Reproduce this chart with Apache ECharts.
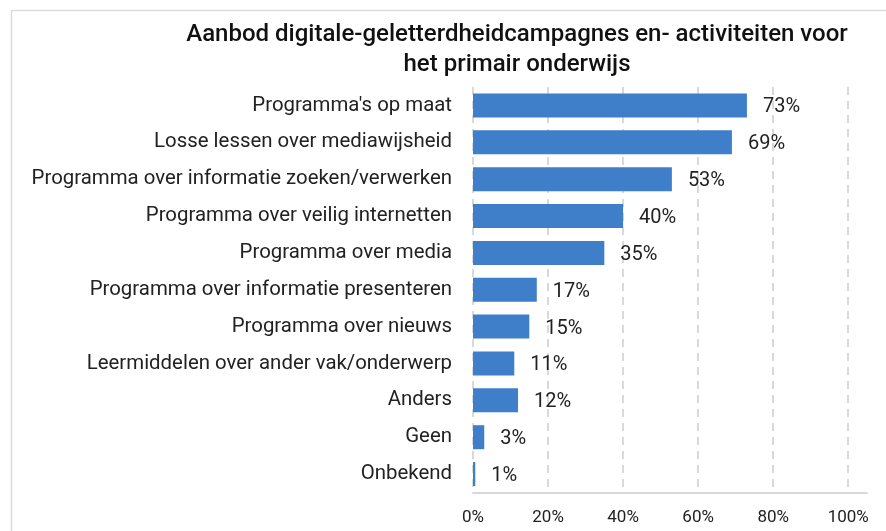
<!DOCTYPE html>
<html lang="nl">
<head>
    <meta charset="UTF-8">
    <title>Aanbod digitale geletterdheid</title>
    <script src="https://cdn.jsdelivr.net/npm/echarts@6/dist/echarts.min.js"></script>
    <style>
        body { margin: 0; background: #fff; }
        #chart { width: 886px; height: 531px; }
    </style>
</head>
<body>
    <div id="chart"></div>
<script>
    // categorieen, van boven naar beneden
    var categories = [
        "Programma's op maat",
        'Losse lessen over mediawijsheid',
        'Programma over informatie zoeken/verwerken',
        'Programma over veilig internetten',
        'Programma over media',
        'Programma over informatie presenteren',
        'Programma over nieuws',
        'Leermiddelen over ander vak/onderwerp',
        'Anders',
        'Geen',
        'Onbekend'
    ];
    var values = [0.73, 0.69, 0.53, 0.40, 0.35, 0.17, 0.15, 0.11, 0.12, 0.03, 0.006];
    var tickValues = [0, 0.2, 0.4, 0.6, 0.8, 1.0];

    var font = 'Roboto';
    var chart = echarts.init(document.getElementById('chart'));

    var option = {
        animation: false,
        backgroundColor: '#fff',
        textStyle: { fontFamily: font },
        graphic: [{
            type: 'rect',
            shape: { x: 11.5, y: 10.5, width: 900, height: 600 },
            style: { fill: 'none', stroke: '#dcdcdc', lineWidth: 1.5 },
            silent: true
        }],
        title: {
            text: 'Aanbod digitale-geletterdheidcampagnes en- activiteiten voor\nhet primair onderwijs',
            left: 512,
            top: 15,
            textAlign: 'center',
            textStyle: {
                fontFamily: font,
                fontSize: 24,
                fontWeight: 500,
                color: '#111',
                lineHeight: 30
            }
        },
        grid: {
            left: 473,
            top: 87,
            width: 394,
            height: 405.5
        },
        xAxis: {
            type: 'value',
            min: 0,
            max: 1.05,
            interval: 0.2,
            axisLine: { show: true, lineStyle: { color: '#d9d9d9', width: 2 } },
            axisTick: { show: false },
            axisLabel: {
                showMaxLabel: false,
                margin: 17,
                fontSize: 17,
                color: '#222',
                formatter: function (v) {
                    return tickValues.indexOf(Math.round(v * 10) / 10) >= 0 ? Math.round(v * 100) + '%' : '';
                }
            },
            splitLine: {
                show: true,
                showMaxLine: false,
                lineStyle: { color: '#d9d9d9', type: [8, 6], width: 2 }
            }
        },
        yAxis: {
            type: 'category',
            inverse: true,
            data: categories,
            axisLine: { show: false },
            axisTick: { show: false },
            axisLabel: {
                margin: 21,
                fontSize: 20.4,
                color: '#222'
            }
        },
        series: [{
            type: 'bar',
            data: values,
            barWidth: 24,
            itemStyle: { color: '#3f7ec9' },
            label: {
                show: true,
                position: 'right',
                distance: 16,
                fontSize: 20,
                color: '#222',
                fontFamily: font,
                offset: [0, 2],
                formatter: function (p) {
                    return Math.round(p.value * 100) + '%';
                }
            }
        }]
    };

    chart.setOption(option);
</script>
</body>
</html>
